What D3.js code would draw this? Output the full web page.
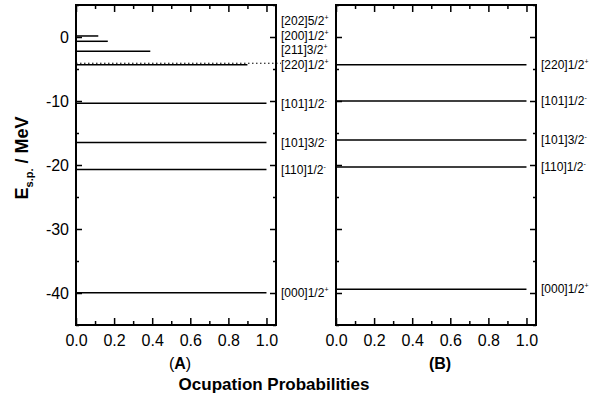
<!DOCTYPE html>
<html>
<head>
<meta charset="utf-8">
<script src="https://cdn.jsdelivr.net/npm/d3@7"></script>
<style>
  body { margin: 0; background: white; }
  svg { font-family: "Liberation Sans", Arial, sans-serif; }
</style>
</head>
<body>
<script>
// level data, panel A
const namesA = ['[202]5/2', '[200]1/2', '[211]3/2', '[220]1/2', '[101]1/2', '[101]3/2', '[110]1/2', '[000]1/2']
const parityA = ['+', '+', '+', '+', '-', '-', '-', '+']
const energyA = [0.16, -0.67, -2.23, -4.33, -10.36, -16.5, -20.7, -39.95]
const probA = [0.117, 0.167, 0.39, 0.90, 1.0, 1.0, 1.0, 1.0]
const fermiA = -4.1

// level data, panel B
const namesB = ['[220]1/2', '[101]1/2', '[101]3/2', '[110]1/2', '[000]1/2']
const parityB = ['+', '-', '-', '-', '+']
const energyB = [-4.33, -10.0, -16.1, -20.3, -39.4]
const probB = [1.0, 1.0, 1.0, 1.0, 1.0]

const xTicks = [0, 0.2, 0.4, 0.6, 0.8, 1.0]
const xMinor = [0.1, 0.3, 0.5, 0.7, 0.9]
const yTicks = [-40, -30, -20, -10, 0]
const yMinor = [-45, -35, -25, -15, -5, 5]

const W = 589, H = 398
const plotTop = 5, plotBottom = 325

const svg = d3.select('body').append('svg')
    .attr('width', W)
    .attr('height', H)

const y = d3.scaleLinear().domain([-45, 5]).range([plotBottom, plotTop])
const noLabel = () => ''

function drawPanel (left, right, names, parity, energy, prob, showY, tag, fermi){

    const x = d3.scaleLinear().domain([0, 1.05]).range([left, right])
    const g = svg.append('g')

    // axes, ticks pointing inward
    g.append('g').attr('transform', `translate(0,${plotBottom})`)
        .call(d3.axisBottom(x).tickValues(xTicks).tickFormat(d3.format('.1f'))
            .tickSizeInner(-7).tickSizeOuter(0).tickPadding(10))
    g.append('g').attr('transform', `translate(0,${plotBottom})`)
        .call(d3.axisBottom(x).tickValues(xMinor).tickFormat(noLabel).tickSizeInner(-4).tickSizeOuter(0))
    g.append('g').attr('transform', `translate(0,${plotTop})`)
        .call(d3.axisTop(x).tickValues(xTicks).tickFormat(noLabel).tickSizeInner(-7).tickSizeOuter(0))
    g.append('g').attr('transform', `translate(0,${plotTop})`)
        .call(d3.axisTop(x).tickValues(xMinor).tickFormat(noLabel).tickSizeInner(-4).tickSizeOuter(0))

    g.append('g').attr('transform', `translate(${left},0)`)
        .call(d3.axisLeft(y).tickValues(yTicks).tickFormat(showY ? (d => String(d)) : noLabel)
            .tickSizeInner(-6).tickSizeOuter(0).tickPadding(7))
    g.append('g').attr('transform', `translate(${left},0)`)
        .call(d3.axisLeft(y).tickValues(yMinor).tickFormat(noLabel).tickSizeInner(-3).tickSizeOuter(0))
    g.append('g').attr('transform', `translate(${right},0)`)
        .call(d3.axisRight(y).tickValues(yTicks).tickFormat(noLabel).tickSizeInner(-6).tickSizeOuter(0))
    g.append('g').attr('transform', `translate(${right},0)`)
        .call(d3.axisRight(y).tickValues(yMinor).tickFormat(noLabel).tickSizeInner(-3).tickSizeOuter(0))

    g.selectAll('.domain').remove()
    g.selectAll('.tick line').attr('stroke', 'black').attr('stroke-width', 1.5)
    g.selectAll('.tick text')
        .style('font-size', '16px')
        .style('font-family', '"Liberation Sans", Arial, sans-serif')
        .attr('fill', 'black')

    g.append('rect')
        .attr('x', left).attr('y', plotTop)
        .attr('width', right - left).attr('height', plotBottom - plotTop)
        .attr('fill', 'none').attr('stroke', 'black').attr('stroke-width', 2)

    if (fermi !== undefined){
        g.append('line')
            .attr('x1', x(0)).attr('x2', right + 5)
            .attr('y1', y(fermi)).attr('y2', y(fermi))
            .attr('stroke', 'black').attr('stroke-width', 1)
            .attr('stroke-dasharray', '1.5,2.5')
    }

    g.selectAll('line.level')
        .data(energy)
        .join('line')
        .attr('class', 'level')
        .attr('x1', x(0))
        .attr('x2', (d, i) => x(prob[i]))
        .attr('y1', d => y(d))
        .attr('y2', d => y(d))
        .attr('stroke', 'black')
        .attr('stroke-width', 1.5)

    // label positions, pushed apart from the bottom up
    const ly = energy.map(d => y(d))
    for (let i = ly.length - 2; i >= 0; i--){
        if (ly[i] > ly[i + 1] - 14.5) ly[i] = ly[i + 1] - 14.5
    }

    const labels = g.selectAll('text.lab')
        .data(names)
        .join('text')
        .attr('class', 'lab')
        .attr('x', right + 5)
        .attr('y', (d, i) => ly[i])
        .attr('dy', '0.35em')
        .style('font-size', '12px')
        .attr('fill', 'black')
    labels.append('tspan').text(d => d)
    labels.append('tspan')
        .attr('dy', '-5')
        .style('font-size', '7px')
        .text((d, i) => parity[i])

    const t = g.append('text')
        .attr('x', (left + right) / 2 + 4)
        .attr('y', 369)
        .attr('text-anchor', 'middle')
        .style('font-size', '16px')
        .attr('fill', 'black')
    t.append('tspan').style('font-weight', tag === 'B' ? 'bold' : 'normal').text('(')
    t.append('tspan').style('font-weight', 'bold').text(tag)
    t.append('tspan').style('font-weight', tag === 'B' ? 'bold' : 'normal').text(')')
}

drawPanel(76, 276, namesA, parityA, energyA, probA, true, 'A', fermiA)
drawPanel(336, 536, namesB, parityB, energyB, probB, false, 'B')

svg.append('text')
    .attr('x', 274)
    .attr('y', 390)
    .attr('text-anchor', 'middle')
    .style('font-size', '17px')
    .style('font-weight', 'bold')
    .attr('fill', 'black')
    .text('Ocupation Probabilities')

const yt = svg.append('text')
    .attr('transform', 'translate(28,158) rotate(-90)')
    .attr('text-anchor', 'middle')
    .style('font-size', '18px')
    .style('font-weight', 'bold')
    .attr('fill', 'black')
yt.append('tspan').text('E')
yt.append('tspan').attr('dy', 5).style('font-size', '11px').text('s.p.')
yt.append('tspan').attr('dy', -5).text('  / MeV')
</script>
</body>
</html>
